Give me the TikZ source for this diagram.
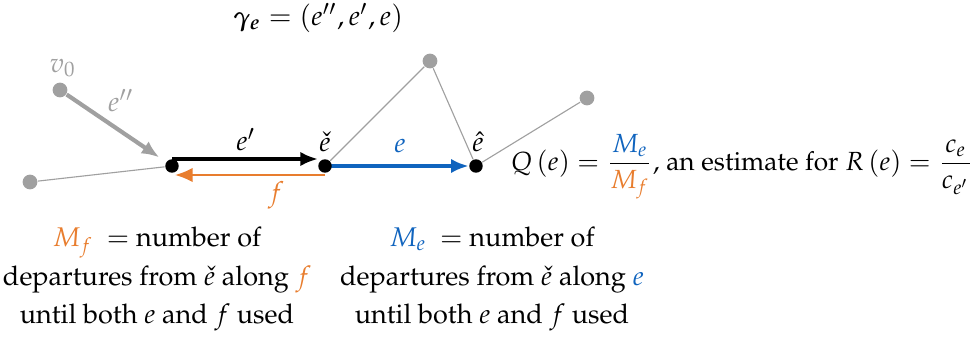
\documentclass[tikz,border=0pt]{standalone}
\usepackage[T1]{fontenc}
\usepackage{amsmath}
\usepackage{mathpazo}
\usetikzlibrary{arrows.meta,calc,backgrounds}
\definecolor{eblue}{RGB}{16,100,190}
\definecolor{forange}{RGB}{232,125,46}
\definecolor{vgray}{RGB}{160,160,160}
\begin{document}
\begin{tikzpicture}[x=0.3125pt,y=-0.3125pt,
  bdot/.style={circle,fill=black,inner sep=0pt,minimum size=4.2pt},
  gdot/.style={circle,fill=vgray,inner sep=0pt,minimum size=4.6pt},
  thin gray/.style={draw=vgray,line width=0.35pt},
  tip/.style={-{Latex[length=5.5pt,width=4.5pt]}},
  lbl/.style={inner sep=1pt,font=\fontsize{8.6}{12}\selectfont},
  ftxt/.style={inner sep=1pt,font=\fontsize{8.2}{12}\selectfont},
  txt/.style={inner sep=1pt,align=center,font=\fontsize{8.45}{12}\selectfont}]
\useasboundingbox (0,0) rectangle (976,338);
% vertices
\node[gdot] (v0dot) at (60,90) {};
\node[gdot] (ldot) at (30,182) {};
\node[bdot] (a) at (172,166) {};
\node[bdot] (ec) at (325,166) {};
\node[bdot] (eh) at (476,166) {};
\node[gdot] (tdot) at (430,61) {};
\node[gdot] (rdot) at (587,98) {};
% edges
\begin{scope}[on background layer]
\draw[thin gray] (ldot) -- (a);
\draw[thin gray] (ec) -- (tdot);
\draw[thin gray] (tdot) -- (eh);
\draw[thin gray] (eh) -- (rdot);
\draw[vgray,line width=1.3pt,tip,shorten >=2.5pt] (v0dot) -- (a);
\draw[black,line width=1.1pt,tip] ($(a.center)+(0,-7)$) -- ($(ec.center)+(-7,-7)$);
\draw[eblue,line width=1.1pt,tip] (ec.center) -- (eh.west);
\draw[forange,line width=0.6pt,tip] ($(ec.center)+(0,9)$) -- ($(a.center)+(3,9)$);
\end{scope}
% labels
\node[lbl,text=vgray] (lv0) at (63,68) {$v_0$};
\node[lbl,text=vgray] (lepp) at (121,101) {$e''$};
\node[lbl] (lep) at (246,140) {$e'$};
\node[lbl] (lec) at (325,142) {$\check e$};
\node[lbl,text=eblue] (le) at (400,146) {$e$};
\node[lbl] (leh) at (478,142) {$\hat e$};
\node[lbl,text=forange] (lf) at (276,195) {$f$};
\node[lbl] (gam) at (318,18) {$\boldsymbol{\gamma_e} = (e'',e',e)$};
\node[ftxt,anchor=west] (q) at (507,167) {$Q\left(e\right) = \dfrac{\color{eblue}M_e}{\color{forange}M_f}$, an estimate for $R\left(e\right) = \dfrac{c_e}{c_{e'}}$};
\node[txt] (tf) at (157,279) {{\color{forange}$M_f$}\ \ $=$ number of\\ departures from $\check e$ along {\color{forange}$f$}\\ until both $e$ and $f$ used};
\node[txt] (te) at (492,279) {{\color{eblue}$M_e$}\ \ $=$ number of\\ departures from $\check e$ along {\color{eblue}$e$}\\ until both $e$ and $f$ used};
\end{tikzpicture}
\end{document}
